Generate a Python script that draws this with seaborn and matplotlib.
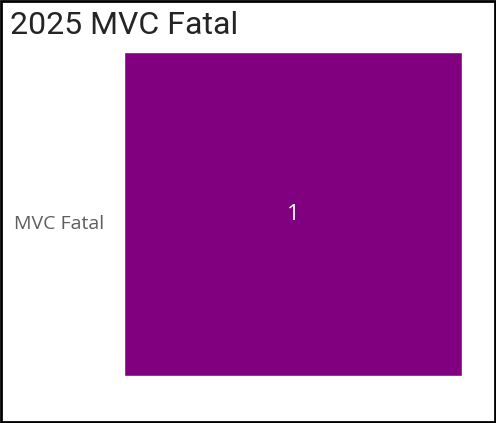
import matplotlib
matplotlib.use("Agg")
import matplotlib.pyplot as plt
import matplotlib.transforms as mtransforms
import seaborn as sns
import pandas as pd

categories = ["MVC Fatal"]
values = [1]
title = "2025 MVC Fatal"

df = pd.DataFrame({"category": categories, "count": values})

sns.set_style("white")
fig = plt.figure(figsize=(4.96, 4.23), dpi=100)
W, H = 496, 423
ax = fig.add_axes([124 / W, 1 - 376 / H, (462 - 124) / W, (376 - 52) / H])

sns.barplot(data=df, x="count", y="category", orient="h", color="#800080",
            saturation=1, width=1.0, ax=ax)
ax.set_xlim(0, max(values))
ax.set_ylim(0.5, -0.5)
ax.set_xlabel("")
ax.set_ylabel("")
ax.set_xticks([])
for s in ax.spines.values():
    s.set_visible(False)
ax.tick_params(axis="y", length=0, pad=14)
shift = mtransforms.ScaledTranslation(0, -8 / 100, fig.dpi_scale_trans)
for lbl in ax.get_yticklabels():
    lbl.set_fontfamily("Open Sans")
    lbl.set_fontsize(14)
    lbl.set_color("#605E5C")
    lbl.set_transform(lbl.get_transform() + shift)

for i, v in enumerate(values):
    ax.text(v / 2, i, str(v), ha="center", va="center", color="white",
            fontsize=16, fontfamily="Open Sans")

fig.text(10 / W, 1 - 25 / H, title, ha="left", va="center", fontsize=23,
         fontfamily="Roboto", color="#252423")

# frame around the whole visual
fig.add_artist(plt.Rectangle((0.002, 0.002), 0.996, 0.996, transform=fig.transFigure,
                             fill=False, edgecolor="black", linewidth=2))

fig.savefig("out.png", dpi=100)
